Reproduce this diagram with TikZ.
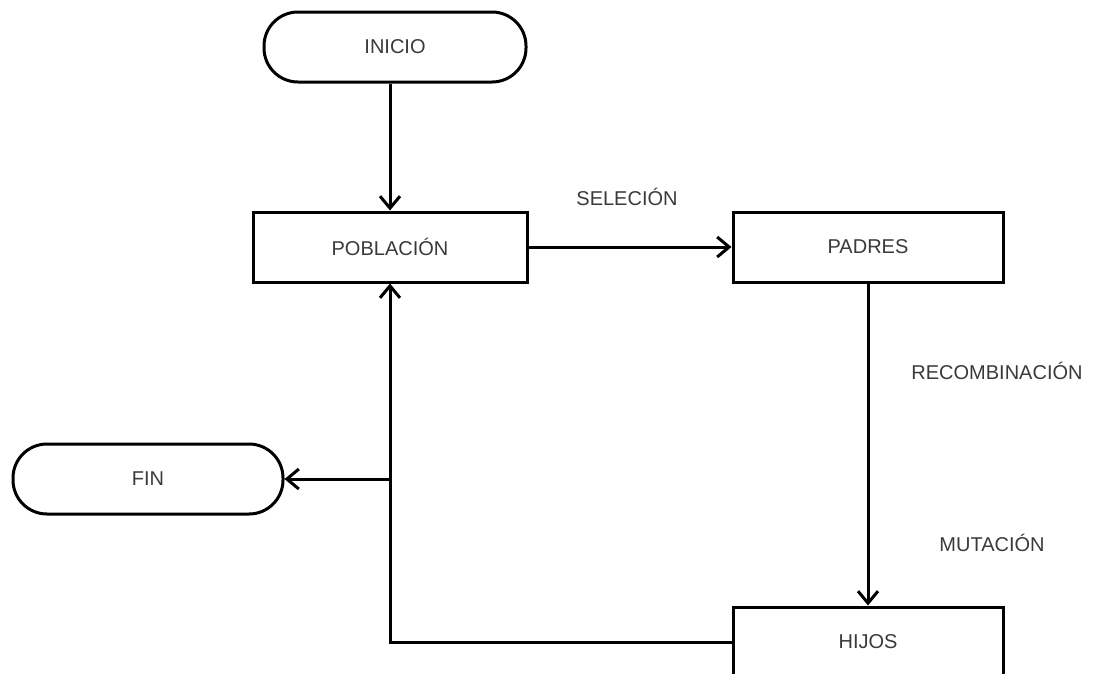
\documentclass[tikz,border=0pt]{standalone}
\usepackage{fontspec}
\setmainfont{Liberation Sans}
\usetikzlibrary{arrows.meta}

\definecolor{textgray}{HTML}{3A3A3A}

\tikzset{
    base/.style = {draw, line width=3pt, text=textgray,
                   font=\fontsize{20}{24}\selectfont},
    terminal/.style = {base, rounded corners=34pt, minimum height=70pt},
    caja/.style = {base, rectangle, minimum width=274pt, minimum height=70pt},
    etiqueta/.style = {text=textgray, font=\fontsize{20}{24}\selectfont},
    flecha/.style = {line width=3pt, -{Straight Barb[length=12pt,width=20pt,line width=3pt]}}
}

\begin{document}
\begin{tikzpicture}[x=1pt,y=-1pt]
    \useasboundingbox (0,0) rectangle (1094,673);

    \node [terminal, minimum width=262pt] (inicio) at (395,47) {INICIO};
    \node [caja] (poblacion) at (390,247) {POBLACIÓN};
    \node [caja, minimum width=270pt] (padres) at (868,247) {PADRES};
    \node [caja, minimum width=270pt] (hijos) at (868,642) {HIJOS};
    \node [terminal, minimum width=270pt] (fin) at (148,479) {FIN};

    \node [etiqueta] (seleccion) at (627,197) {SELECIÓN};
    \node [etiqueta] (recombinacion) at (997,371) {RECOMBINACIÓN};
    \node [etiqueta] (mutacion) at (992,543) {MUTACIÓN};

    \coordinate (junta) at (poblacion.south |- fin.east);

    \draw [flecha] (inicio.south -| poblacion.north) -- (poblacion.north);
    \draw [flecha] (poblacion.east) -- (padres.west);
    \draw [flecha] (padres.south) -- (hijos.north);
    \draw [flecha] (hijos.west) -| (poblacion.south);
    \draw [flecha] (junta) -- (fin.east);
\end{tikzpicture}
\end{document}
